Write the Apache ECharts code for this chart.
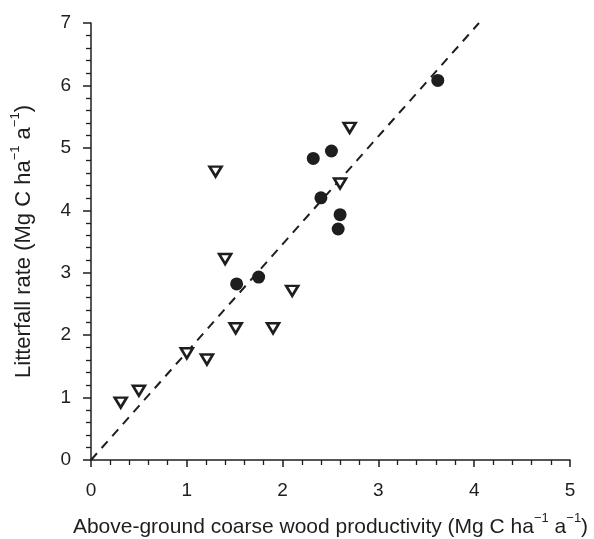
<!DOCTYPE html>
<html>
<head>
<meta charset="utf-8">
<script src="https://cdn.jsdelivr.net/npm/echarts@6/dist/echarts.min.js"></script>
<style>
html,body{margin:0;padding:0;background:#fff;}
#c{width:594px;height:539px;}
</style>
</head>
<body>
<div id="c"></div>
<script>
// Filled circles
var circleX = [3.62, 2.32, 2.51, 2.40, 2.60, 2.58, 1.75, 1.52];
var circleY = [6.08, 4.83, 4.95, 4.20, 3.93, 3.70, 2.93, 2.82];
// Open downward triangles
var triX = [1.30, 2.70, 2.60, 1.40, 2.10, 1.51, 1.90, 1.00, 1.21, 0.50, 0.31];
var triY = [4.62, 5.32, 4.43, 3.22, 2.71, 2.11, 2.11, 1.71, 1.61, 1.11, 0.92];
// Dashed reference line
var lineX = [0, 4.05];
var lineY = [0, 7];
var xTicks = [0, 1, 2, 3, 4, 5];
var yTicks = [0, 1, 2, 3, 4, 5, 6, 7];

function pairs(xs, ys){ return xs.map(function(x,i){ return [x, ys[i]]; }); }

var ink = '#1e1e1e';
var font = 'Liberation Sans, Arial, sans-serif';
function makeRich(fs){
  return {
    n: {fontSize: fs, fontFamily: font, color: ink, lineHeight: 26, verticalAlign: 'bottom'},
    sup: {fontSize: 13, fontFamily: font, color: ink, lineHeight: 26, verticalAlign: 'top', padding: [0,0,10,0]}
  };
}

var chart = echarts.init(document.getElementById('c'), null, {renderer: 'canvas'});
chart.setOption({
  animation: false,
  backgroundColor: '#fff',
  grid: {left: 91, right: 24, top: 23, bottom: 79, containLabel: false, outerBoundsMode: 'none'},
  xAxis: {
    type: 'value', min: 0, max: 5, interval: 1,
    name: '{n|Above-ground coarse wood productivity (Mg C ha}{sup|−1}{n| a}{sup|−1}{n|)}',
    nameLocation: 'middle', nameGap: 52,
    nameTextStyle: {fontSize: 21, fontFamily: font, color: ink, rich: makeRich(21)},
    axisLine: {show: true, onZero: false, lineStyle: {color: ink, width: 1.5}},
    axisTick: {show: true, length: 7, lineStyle: {color: ink, width: 1.5}},
    minorTick: {show: true, splitNumber: 5, length: 5, lineStyle: {color: ink, width: 1.3}},
    axisLabel: {margin: 21, fontSize: 19, fontFamily: font, color: ink,
      formatter: function(v){ return xTicks.indexOf(v) >= 0 ? String(v) : ''; }},
    splitLine: {show: false}
  },
  yAxis: {
    type: 'value', min: 0, max: 7, interval: 1,
    name: '{n|Litterfall rate (Mg C ha}{sup|−1}{n| a}{sup|−1}{n|)}',
    nameLocation: 'middle', nameGap: 56, nameRotate: 90,
    nameTextStyle: {fontSize: 22, fontFamily: font, color: ink, rich: makeRich(22)},
    axisLine: {show: true, onZero: false, lineStyle: {color: ink, width: 1.5}},
    axisTick: {show: true, length: 8, lineStyle: {color: ink, width: 1.5}},
    minorTick: {show: true, splitNumber: 5, length: 5, lineStyle: {color: ink, width: 1.3}},
    axisLabel: {margin: 20, fontSize: 19, fontFamily: font, color: ink,
      formatter: function(v){ return yTicks.indexOf(v) >= 0 ? String(v) : ''; }},
    splitLine: {show: false}
  },
  series: [
    {
      type: 'line', data: pairs(lineX, lineY), symbol: 'none', silent: true,
      lineStyle: {color: ink, width: 2, type: [9, 7]}, z: 1
    },
    {
      type: 'scatter', data: pairs(triX, triY), symbol: 'triangle', symbolRotate: 180,
      symbolSize: [12, 10],
      itemStyle: {color: '#fff', borderColor: ink, borderWidth: 2.6, opacity: 1}, z: 3
    },
    {
      type: 'scatter', data: pairs(circleX, circleY), symbol: 'circle', symbolSize: 13,
      itemStyle: {color: ink, opacity: 1}, z: 4
    }
  ]
});
</script>
</body>
</html>
